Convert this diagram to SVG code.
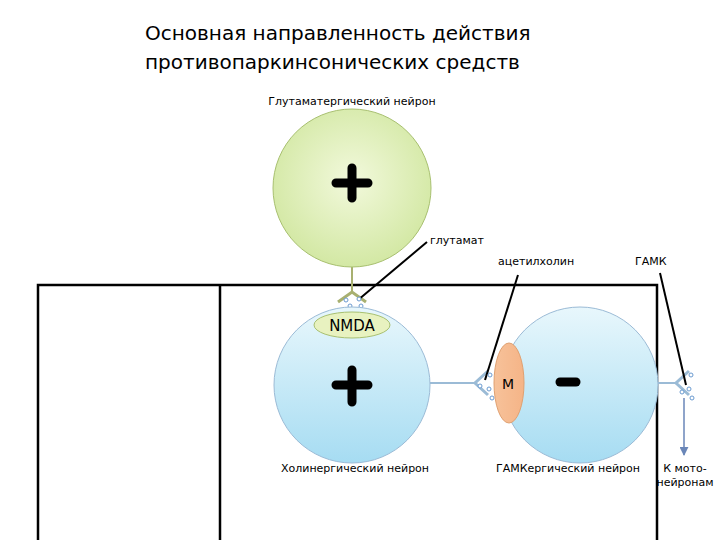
<svg xmlns="http://www.w3.org/2000/svg" width="720" height="540" viewBox="0 0 720 540">
<defs>
<radialGradient id="g" cx="50%" cy="45%" r="55%"><stop offset="0" stop-color="#f2f9dc"/><stop offset="1" stop-color="#d3e8a4"/></radialGradient>
<linearGradient id="b" x1="0" y1="0" x2="0" y2="1"><stop offset="0" stop-color="#e8f7fc"/><stop offset="1" stop-color="#a6dcf2"/></linearGradient>
<linearGradient id="o" x1="0" y1="0" x2="1" y2="0"><stop offset="0" stop-color="#f7c29a"/><stop offset="1" stop-color="#f5b487"/></linearGradient>
<marker id="ar" viewBox="0 0 10 10" refX="9" refY="5" markerWidth="6" markerHeight="6" orient="auto"><path d="M0,0L10,5L0,10z" fill="#6a86b8"/></marker>
</defs>
<style>
text{font-family:"Comic Sans MS","DejaVu Sans",sans-serif;fill:#000}
.t{font-size:20px}
.s{font-size:11px}
.c{stroke:#9bbbd6;stroke-width:1}
.sig{fill:none;stroke:#000;stroke-width:9;stroke-linecap:round}
.ptr{stroke:#000;stroke-width:2}
.v{fill:#fff;stroke:#6a9ad0;stroke-width:1}
</style>
<text class="t" x="145" y="40">Основная направленность действия</text>
<text class="t" x="145" y="69">противопаркинсонических средств</text>
<text class="s" x="352" y="105" text-anchor="middle">Глутаматергический нейрон</text>
<g id="frame" fill="none" stroke="#000" stroke-width="2.5">
<path d="M38,540V285H657V540"/><path d="M220,285V540"/>
</g>
<g id="connectors" fill="none">
<path d="M352,266V292" stroke="#a8b070" stroke-width="2"/>
<path d="M338,302L352,292L366,302" stroke="#a8b070" stroke-width="3"/>
<path d="M430,383H476" stroke="#9bbbd6" stroke-width="2"/>
<path d="M488,371L475,383L488,395" stroke="#9bbbd6" stroke-width="3"/>
<path d="M657,383H676" stroke="#9bbbd6" stroke-width="2"/>
<path d="M689,371L676,383L689,395" stroke="#9bbbd6" stroke-width="3"/>
<path d="M684,398V455" stroke="#6a86b8" stroke-width="1.5" marker-end="url(#ar)"/>
<path class="ptr" d="M427,242L358,300"/>
<path class="ptr" d="M518,275L485,380"/>
<path class="ptr" d="M660,273L686,385"/>
<g class="v"><circle cx="346" cy="300" r="2"/><circle cx="350" cy="306" r="2"/><circle cx="361" cy="306" r="2"/><circle cx="359" cy="299" r="2"/>
<circle cx="490" cy="375" r="2"/><circle cx="480" cy="386" r="2"/><circle cx="489" cy="389" r="2"/><circle cx="492" cy="398" r="2"/>
<circle cx="691" cy="375" r="2"/><circle cx="689" cy="389" r="2"/><circle cx="692" cy="398" r="2"/><circle cx="682" cy="392" r="2"/></g>
</g>
<g id="glutamate-neuron"><circle cx="352" cy="188" r="79" fill="url(#g)" stroke="#a8c070" stroke-width="1"/>
<path class="sig" d="M352,168V198M336,183H368" stroke-width="7"/></g>
<g id="cholinergic-neuron"><circle cx="352" cy="385" r="78" fill="url(#b)" class="c"/>
<path class="sig" d="M352,370V402M336,385H368" stroke-width="7"/></g>
<g id="nmda"><ellipse cx="352" cy="325" rx="38" ry="13" fill="#e8f2c0" stroke="#a8c070"/>
<text x="352" y="331" font-size="15" text-anchor="middle">NMDA</text></g>
<g id="gaba-neuron"><circle cx="580" cy="385" r="78" fill="url(#b)" class="c"/>
<path class="sig" d="M560,382H576" stroke-width="8"/></g>
<g id="m-receptor"><ellipse cx="509" cy="383" rx="15" ry="40" fill="url(#o)" stroke="#e0a070"/>
<text x="508" y="389" font-size="14" text-anchor="middle">M</text></g>
<text class="s" x="430" y="244">глутамат</text>
<text class="s" x="498" y="265">ацетилхолин</text>
<text class="s" x="635" y="265">ГАМК</text>
<text class="s" x="355" y="472" text-anchor="middle">Холинергический нейрон</text>
<text class="s" x="568" y="472" text-anchor="middle">ГАМКергический нейрон</text>
<text class="s" x="685" y="472" text-anchor="middle">К мото-</text>
<text class="s" x="685" y="486" text-anchor="middle">нейронам</text>
</svg>
